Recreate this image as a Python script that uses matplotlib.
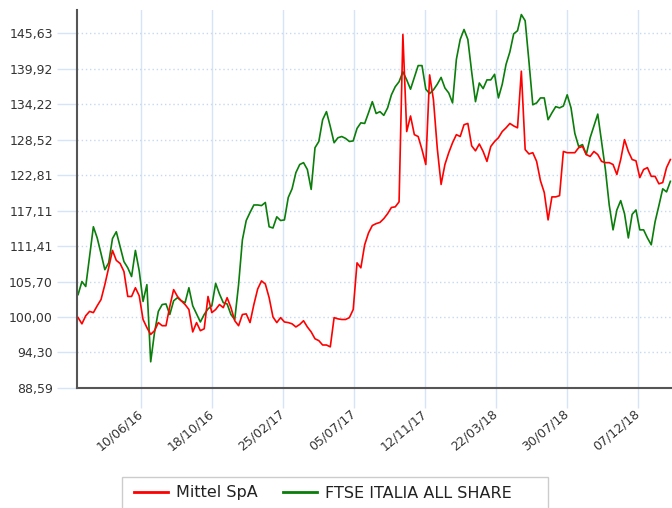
"""
Mittel SpA vs FTSE Italia All Share, rebased to 100.
"""
import pandas as pd
import matplotlib
matplotlib.use("Agg")
import matplotlib.pyplot as plt
from matplotlib.patches import Rectangle
from matplotlib.lines import Line2D

# weekly closes, rebased
dates = pd.date_range("2016-02-15", periods=156, freq="7D")

mittel = [
    99.9, 98.9, 100.2, 100.9, 100.7, 101.8, 102.8, 105.2, 107.9, 110.7,
    109.1, 108.6, 107.3, 103.3, 103.3, 104.7, 103.4, 99.6, 98.3, 97.2,
    97.8, 99.1, 98.6, 98.6, 101.7, 104.4, 103.3, 102.6, 102.0, 101.2,
    97.6, 99.1, 97.8, 98.1, 103.3, 100.7, 101.2, 102.0, 101.5, 103.1,
    101.5, 99.4, 98.6, 100.4, 100.5, 99.1, 102.0, 104.5, 105.8, 105.3,
    103.1, 100.0, 99.1, 99.9, 99.2, 99.1, 98.9, 98.4, 98.8, 99.4,
    98.4, 97.6, 96.5, 96.2, 95.5, 95.5, 95.2, 99.9, 99.7, 99.6,
    99.6, 99.9, 101.2, 108.7, 107.9, 111.6, 113.5, 114.7, 115.0, 115.2,
    115.8, 116.6, 117.6, 117.7, 118.5, 145.4, 129.8, 132.3, 129.3, 129.0,
    126.9, 124.5, 138.9, 134.9, 127.1, 121.3, 124.5, 126.4, 128.0, 129.3,
    129.0, 130.9, 131.1, 127.5, 126.7, 127.8, 126.6, 125.0, 127.4, 128.2,
    128.8, 129.8, 130.4, 131.1, 130.7, 130.4, 139.5, 126.9, 126.2, 126.4,
    125.0, 121.9, 120.0, 115.6, 119.3, 119.3, 119.5, 126.6, 126.4, 126.4,
    126.4, 127.2, 127.4, 126.1, 125.8, 126.6, 126.1, 125.0, 124.8, 124.8,
    124.5, 122.9, 125.3, 128.5, 126.6, 125.3, 125.1, 122.4, 123.7, 124.0,
    122.6, 122.6, 121.4, 121.6, 124.0, 125.3,
]

ftse = [
    103.6, 105.7, 104.9, 109.7, 114.5, 112.7, 110.2, 107.6, 108.7, 112.6,
    113.7, 111.3, 108.9, 107.9, 106.5, 110.7, 107.4, 102.5, 105.2, 92.8,
    97.5, 100.9, 102.0, 102.1, 100.4, 102.6, 103.1, 102.6, 102.3, 104.7,
    101.8, 100.5, 99.2, 100.4, 101.3, 101.8, 105.4, 103.7, 102.3, 102.1,
    100.4, 99.6, 105.2, 112.4, 115.5, 116.8, 118.0, 118.0, 117.9, 118.4,
    114.5, 114.3, 116.1, 115.5, 115.6, 119.2, 120.6, 123.2, 124.5, 124.8,
    123.7, 120.5, 127.2, 128.2, 131.7, 133.0, 130.6, 128.0, 128.8, 129.0,
    128.7, 128.2, 128.3, 130.3, 131.2, 131.1, 132.8, 134.6, 132.7, 133.0,
    132.4, 133.6, 135.7, 137.0, 137.8, 139.4, 138.1, 136.6, 138.5, 140.4,
    140.4, 136.6, 135.9, 136.5, 137.4, 138.5, 136.8, 136.0, 134.4, 141.4,
    144.6, 146.2, 144.6, 139.4, 134.6, 137.6, 136.7, 138.1, 138.1, 139.0,
    135.2, 137.4, 140.6, 142.6, 145.5, 146.0, 148.6, 147.6, 141.0, 134.1,
    134.4, 135.2, 135.2, 131.7, 132.8, 133.8, 133.6, 133.9, 135.7, 133.6,
    129.5, 127.4, 127.7, 126.1, 128.8, 130.7, 132.6, 128.2, 123.7, 118.0,
    114.0, 117.2, 118.7, 116.6, 112.7, 116.5, 117.2, 114.0, 114.0, 112.7,
    111.6, 115.3, 117.9, 120.6, 120.1, 121.8,
]

y_ticks = [88.59, 94.30, 100.00, 105.70, 111.41, 117.11,
           122.81, 128.52, 134.22, 139.92, 145.63]
x_tick_dates = ["2016-06-10", "2016-10-18", "2017-02-25", "2017-07-05",
                "2017-11-12", "2018-03-22", "2018-07-30", "2018-12-07"]
x_tick_labels = ["10/06/16", "18/10/16", "25/02/17", "05/07/17",
                 "12/11/17", "22/03/18", "30/07/18", "07/12/18"]

RED = "#ff0000"
GREEN = "#0a7d0a"
GRID = "#d6e4f6"

fig = plt.figure(figsize=(6.72, 5.08), dpi=100)
ax = fig.add_axes([77/672, 120/508, 595/672, 378/508])

ax.plot(dates, mittel, color=RED, lw=1.2, zorder=3)
ax.plot(dates, ftse, color=GREEN, lw=1.2, zorder=2)

ax.set_xlim(pd.Timestamp("2016-02-13"), pd.Timestamp("2019-02-07"))
ax.set_ylim(88.59, 149.33)

ax.set_yticks(y_ticks)
ax.set_yticklabels([f"{v:.2f}".replace(".", ",") for v in y_ticks])
ax.set_xticks(pd.to_datetime(x_tick_dates))
ax.set_xticklabels(x_tick_labels, rotation=40, ha="right", va="center",
                   rotation_mode="anchor")

ax.tick_params(axis="y", length=14.4, width=1, color=GRID, pad=3,
               labelsize=9, labelcolor="#333333")
ax.tick_params(axis="x", length=14.4, width=1, color=GRID, pad=3,
               labelsize=9, labelcolor="#333333")

ax.yaxis.grid(True, linestyle=(0, (1, 2)), color="#c6d9f0", lw=1)
ax.xaxis.grid(True, color=GRID, lw=1)
ax.set_axisbelow(True)

for s in ["top", "right"]:
    ax.spines[s].set_visible(False)
for s in ["left", "bottom"]:
    ax.spines[s].set_color("#555555")
    ax.spines[s].set_linewidth(1.5)

# legend box runs off the bottom edge
fig.patches.append(Rectangle((122/672, -0.05), (548-122)/672, 31/508 + 0.05,
                             transform=fig.transFigure, facecolor="white",
                             edgecolor="#cccccc", lw=1))
handles = [Line2D([], [], color=RED, lw=2), Line2D([], [], color=GREEN, lw=2)]
fig.legend(handles, ["Mittel SpA", "FTSE ITALIA ALL SHARE"], ncol=2,
           loc="center left", bbox_to_anchor=(120/672, 1 - 493/508),
           frameon=False, fontsize=11.5, handlelength=2.1,
           handletextpad=0.5, columnspacing=1.6, labelcolor="#222222")

fig.savefig("out.png", dpi=100)
plt.close(fig)
